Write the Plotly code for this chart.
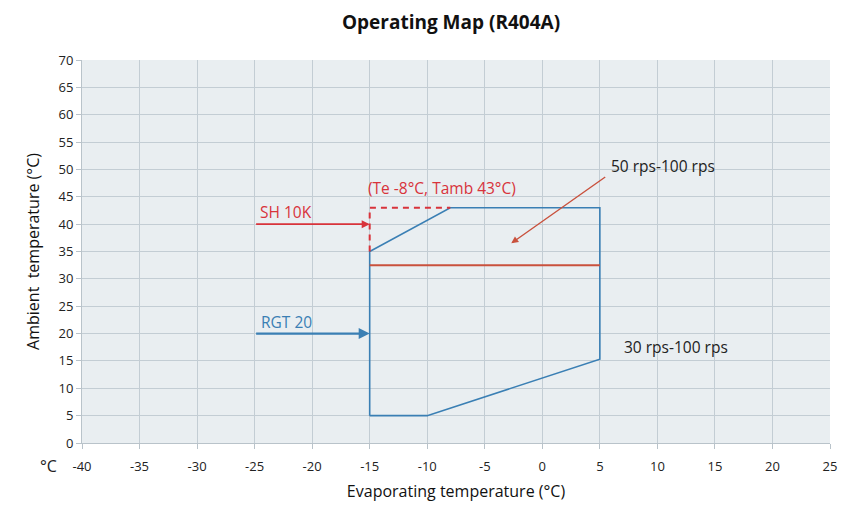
import plotly.graph_objects as go

# Envelope polygon (evaporating temp, ambient temp)
env_te = [-15, -10, 5, 5, -8, -15, -15]
env_ta = [5, 5, 15.3, 43, 43, 35, 5]

# SH 10K dashed limit
sh_te = [-15, -15, -8]
sh_ta = [35, 43, 43]

# 50 rps boundary line
rps50_te = [-15, 5]
rps50_ta = [32.5, 32.5]

# Arrows (start te, start ta, end te, end ta)
sh_arrow = (-25, 40, -15, 40)
rgt_arrow = (-25, 20, -15, 20)
rps_arrow = (5.6, 48.8, -2.7, 36.5)

x_ticks = list(range(-40, 26, 5))
x_labels = [str(v) for v in x_ticks]
y_ticks = list(range(0, 71, 5))

BLUE = "#3a7fb4"
RED = "#d8333b"
ORANGE = "#c9513d"
FONT = "Open Sans"

fig = go.Figure()
fig.add_trace(go.Scatter(x=env_te, y=env_ta, mode="lines",
                         line=dict(color=BLUE, width=1.6), hoverinfo="skip"))
fig.add_trace(go.Scatter(x=sh_te, y=sh_ta, mode="lines",
                         line=dict(color=RED, width=2, dash="6px,5px"), hoverinfo="skip"))
fig.add_trace(go.Scatter(x=rps50_te, y=rps50_ta, mode="lines",
                         line=dict(color=ORANGE, width=2), hoverinfo="skip"))

def arrow(a, color, width, head):
    x0, y0, x1, y1 = a
    fig.add_annotation(x=x1, y=y1, ax=x0, ay=y0, xref="x", yref="y", axref="x", ayref="y",
                       text="", showarrow=True, arrowhead=head, arrowsize=1.0,
                       arrowwidth=width, arrowcolor=color)

arrow(sh_arrow, RED, 1.6, 2)
arrow(rgt_arrow, BLUE, 2.2, 2)
arrow(rps_arrow, ORANGE, 1.4, 2)

def label(x, y, text, color, anchor="left"):
    fig.add_annotation(x=x, y=y, xref="x", yref="y", text=text, showarrow=False,
                       xanchor=anchor, yanchor="middle",
                       font=dict(family=FONT, size=15.5, color=color))

label(-15.3, 46.6, "(Te -8°C, Tamb 43°C)", RED)
label(-24.7, 42.2, "SH 10K", RED)
label(-24.6, 22.2, "RGT 20", BLUE)
label(5.8, 50.6, "50 rps-100 rps", "#222222")
label(6.9, 17.5, "30 rps-100 rps", "#222222")

fig.add_annotation(x=(48 - 82) / 748, y=(443 - 466) / 383, xref="paper", yref="paper",
                   text="°C", showarrow=False, xanchor="center", yanchor="middle",
                   font=dict(family=FONT, size=16, color="#222222"))

fig.update_layout(
    width=864, height=506,
    margin=dict(l=82, r=34, t=60, b=63),
    paper_bgcolor="white", plot_bgcolor="#e9eef1",
    showlegend=False,
    title=dict(text="<b>Operating Map (R404A)</b>", x=0.522, xanchor="center",
               yref="container", y=1 - 22 / 506, yanchor="middle",
               font=dict(family=FONT, size=19, color="#111111")),
    xaxis=dict(range=[-40, 25], tickvals=x_ticks, ticktext=x_labels, showgrid=True,
               gridcolor="#c3cdd4", gridwidth=1, zeroline=False, showline=True,
               linecolor="#b9c3ca", ticks="outside", ticklen=5, tickcolor="#b9c3ca",
               ticklabelstandoff=6, automargin=False,
               tickfont=dict(family=FONT, size=13, color="#222222"),
               title=dict(text="Evaporating temperature (°C)", standoff=12,
                          font=dict(family=FONT, size=16, color="#111111"))),
    yaxis=dict(range=[0, 70], tickvals=y_ticks, showgrid=True, gridcolor="#c3cdd4",
               gridwidth=1, zeroline=False, showline=True, linecolor="#b9c3ca",
               ticks="outside", ticklen=5, tickcolor="#b9c3ca", automargin=False,
               tickfont=dict(family=FONT, size=13, color="#222222"),
               title=dict(text="Ambient  temperature (°C)", standoff=14,
                          font=dict(family=FONT, size=16, color="#111111"))),
)

fig.write_html("out.html")
